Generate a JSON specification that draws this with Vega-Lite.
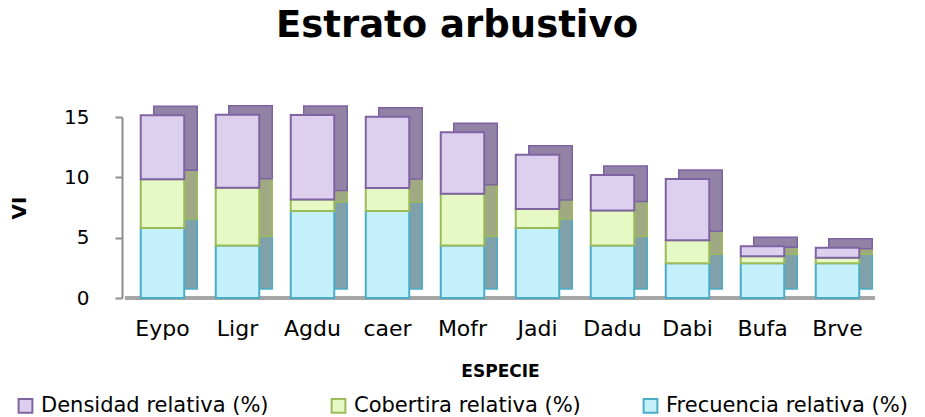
{
  "$schema": "https://vega.github.io/schema/vega-lite/v6.json",
  "width": 750,
  "height": 181,
  "autosize": "none",
  "padding": {"left": 125, "top": 117, "right": 50, "bottom": 119},
  "background": "white",
  "title": {"text": "Estrato arbustivo", "font": "DejaVu Sans", "fontSize": 37, "fontWeight": "bold", "color": "#000000", "offset": 60, "dx": -43},
  "data": {"values": [
    {"especie": "Eypo", "serie": "Frecuencia relativa (%)", "o": 1, "v": 5.8},
    {"especie": "Eypo", "serie": "Cobertira relativa (%)", "o": 2, "v": 4.05},
    {"especie": "Eypo", "serie": "Densidad relativa (%)", "o": 3, "v": 5.3},
    {"especie": "Ligr", "serie": "Frecuencia relativa (%)", "o": 1, "v": 4.36},
    {"especie": "Ligr", "serie": "Cobertira relativa (%)", "o": 2, "v": 4.77},
    {"especie": "Ligr", "serie": "Densidad relativa (%)", "o": 3, "v": 6.05},
    {"especie": "Agdu", "serie": "Frecuencia relativa (%)", "o": 1, "v": 7.22},
    {"especie": "Agdu", "serie": "Cobertira relativa (%)", "o": 2, "v": 0.95},
    {"especie": "Agdu", "serie": "Densidad relativa (%)", "o": 3, "v": 7.0},
    {"especie": "caer", "serie": "Frecuencia relativa (%)", "o": 1, "v": 7.22},
    {"especie": "caer", "serie": "Cobertira relativa (%)", "o": 2, "v": 1.9},
    {"especie": "caer", "serie": "Densidad relativa (%)", "o": 3, "v": 5.9},
    {"especie": "Mofr", "serie": "Frecuencia relativa (%)", "o": 1, "v": 4.36},
    {"especie": "Mofr", "serie": "Cobertira relativa (%)", "o": 2, "v": 4.27},
    {"especie": "Mofr", "serie": "Densidad relativa (%)", "o": 3, "v": 5.1},
    {"especie": "Jadi", "serie": "Frecuencia relativa (%)", "o": 1, "v": 5.8},
    {"especie": "Jadi", "serie": "Cobertira relativa (%)", "o": 2, "v": 1.58},
    {"especie": "Jadi", "serie": "Densidad relativa (%)", "o": 3, "v": 4.5},
    {"especie": "Dadu", "serie": "Frecuencia relativa (%)", "o": 1, "v": 4.36},
    {"especie": "Dadu", "serie": "Cobertira relativa (%)", "o": 2, "v": 2.89},
    {"especie": "Dadu", "serie": "Densidad relativa (%)", "o": 3, "v": 2.95},
    {"especie": "Dabi", "serie": "Frecuencia relativa (%)", "o": 1, "v": 2.88},
    {"especie": "Dabi", "serie": "Cobertira relativa (%)", "o": 2, "v": 1.9},
    {"especie": "Dabi", "serie": "Densidad relativa (%)", "o": 3, "v": 5.08},
    {"especie": "Bufa", "serie": "Frecuencia relativa (%)", "o": 1, "v": 2.88},
    {"especie": "Bufa", "serie": "Cobertira relativa (%)", "o": 2, "v": 0.59},
    {"especie": "Bufa", "serie": "Densidad relativa (%)", "o": 3, "v": 0.81},
    {"especie": "Brve", "serie": "Frecuencia relativa (%)", "o": 1, "v": 2.88},
    {"especie": "Brve", "serie": "Cobertira relativa (%)", "o": 2, "v": 0.45},
    {"especie": "Brve", "serie": "Densidad relativa (%)", "o": 3, "v": 0.84}
  ]},
  "encoding": {
    "x": {"field": "especie", "type": "nominal", "sort": null,
      "scale": {"paddingInner": 0.42, "paddingOuter": 0.21},
      "axis": {"title": "ESPECIE", "titleFont": "DejaVu Sans", "titleFontSize": 17, "titleFontWeight": "bold", "titleColor": "#000", "titlePadding": 24,
        "labelFont": "DejaVu Sans", "labelFontSize": 22, "labelColor": "#000", "labelAngle": 0, "labelPadding": 20,
        "ticks": false, "domain": false}},
    "y": {"field": "v", "type": "quantitative", "stack": "zero",
      "scale": {"domain": [0, 15], "nice": false},
      "axis": {"title": "VI", "titleFont": "DejaVu Sans", "titleFontSize": 20, "titleFontWeight": "bold", "titleColor": "#000", "titlePadding": 34,
        "labelFont": "DejaVu Sans", "labelFontSize": 20, "labelColor": "#000", "labelPadding": 26,
        "values": [0, 5, 10, 15], "grid": false, "domainColor": "#8c8c8c", "domainWidth": 2, "tickColor": "#8c8c8c", "tickWidth": 2, "tickSize": 7, "offset": 3}},
    "order": {"field": "o", "type": "quantitative"}
  },
  "layer": [
    {
      "mark": {"type": "rule", "color": "#a6a6a6", "strokeWidth": 3},
      "encoding": {"y": {"datum": 0}, "x": null, "order": null}
    },
    {
      "mark": {"type": "bar", "strokeWidth": 1.5},
      "encoding": {
        "xOffset": {"value": 13},
        "yOffset": {"value": -9},
        "fill": {"field": "serie", "type": "nominal", "legend": null,
          "scale": {"domain": ["Densidad relativa (%)", "Cobertira relativa (%)", "Frecuencia relativa (%)"], "range": ["#9282a6", "#a0a884", "#80a0aa"]}},
        "stroke": {"field": "serie", "type": "nominal", "legend": null,
          "scale": {"domain": ["Densidad relativa (%)", "Cobertira relativa (%)", "Frecuencia relativa (%)"], "range": ["#7d62a3", "#9bbb59", "#4bacc6"]}}
      }
    },
    {
      "mark": {"type": "bar", "strokeWidth": 2},
      "encoding": {
        "fill": {"field": "serie", "type": "nominal",
          "scale": {"domain": ["Densidad relativa (%)", "Cobertira relativa (%)", "Frecuencia relativa (%)"], "range": ["#ddd0ee", "#e6f8c4", "#c4f0fb"]},
          "legend": {"orient": "none", "legendX": -110, "legendY": 278, "direction": "horizontal", "title": null,
            "symbolType": "square", "symbolSize": 190, "symbolStrokeWidth": 2, "labelFont": "DejaVu Sans", "labelFontSize": 21, "labelColor": "#000", "labelLimit": 400, "columnPadding": 58, "labelOffset": 5}},
        "stroke": {"field": "serie", "type": "nominal",
          "scale": {"domain": ["Densidad relativa (%)", "Cobertira relativa (%)", "Frecuencia relativa (%)"], "range": ["#8064a2", "#9bbb59", "#4bacc6"]}}
      }
    }
  ],
  "resolve": {"scale": {"fill": "independent", "stroke": "independent"}},
  "config": {"view": {"stroke": null}}
}
